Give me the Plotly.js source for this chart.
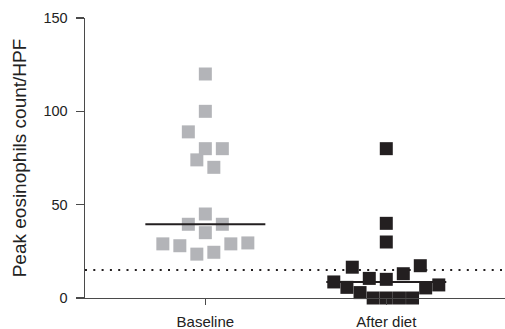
<!DOCTYPE html>
<html>
<head>
<meta charset="utf-8">
<script src="https://cdn.plot.ly/plotly-3.0.1.min.js"></script>
<style>html,body{margin:0;padding:0;background:#fff;}#chart{width:505px;height:329px;}</style>
</head>
<body>
<div id="chart"></div>
<script>
// ---- data ----
const categories = ['Baseline', 'After diet'];
// values listed in the order they fill each row of the dot plot
const baselineValues = [23.5, 24.5, 28, 29, 29, 29.5, 35, 39.5, 39.5, 45, 74, 70, 80, 80, 89, 100, 120];
const afterDietValues = [0, 0, 0, 0, 2.9, 5.4, 5.7, 7, 8.6, 10, 13, 10.5, 17.3, 16.5, 30, 40, 80];
const thresholdValue = 15;
const yTicks = [0, 50, 100, 150];

// ---- layout constants ----
const W = 505, H = 329;
const margin = {l: 85, r: 0, t: 18, b: 31, pad: 0};
const xRange = [0.335, 2.656];
const pxPerX = (W - margin.l - margin.r) / (xRange[1] - xRange[0]);
const ink = '#231f20';
const axisColor = '#4a4a4a';
const font = 'Liberation Sans, Arial, Helvetica, sans-serif';

// row-based scatter-dot arrangement (points binned into rows, spread centre-out)
function swarmOffsets(values, binWidth, spacingPx, maxSpanPx) {
  const bins = new Map();
  values.forEach((v, i) => {
    const b = Math.floor(v / binWidth + 1e-9);
    if (!bins.has(b)) bins.set(b, []);
    bins.get(b).push(i);
  });
  const off = new Array(values.length).fill(0);
  bins.forEach(idx => {
    const n = idx.length;
    const sp = n > 1 ? Math.min(spacingPx, maxSpanPx / (n - 1)) : 0;
    const c = Math.floor((n - 1) / 2);
    const order = [c];
    for (let k = 1; order.length < n; k++) {
      if (c + k < n) order.push(c + k);
      if (c - k >= 0 && order.length < n) order.push(c - k);
    }
    idx.forEach((pi, j) => { off[pi] = (order[j] - (n - 1) / 2) * sp / pxPerX; });
  });
  return off;
}
function median(a) {
  const s = a.slice().sort((p, q) => p - q);
  const m = Math.floor(s.length / 2);
  return s.length % 2 ? s[m] : (s[m - 1] + s[m]) / 2;
}

const groups = [baselineValues, afterDietValues];
const colors = ['#b3b4b8', ink];
const traces = [];
groups.forEach((vals, g) => {
  const pos = g + 1;
  const off = swarmOffsets(vals, 10, 17, 105);
  traces.push({
    type: 'scatter', mode: 'markers',
    x: vals.map((v, i) => pos + off[i]), y: vals,
    marker: {symbol: 'square', size: 13, color: colors[g], line: {width: 0}},
    cliponaxis: false, hoverinfo: 'y'
  });
});
groups.forEach((vals, g) => {
  const pos = g + 1, half = 60 / pxPerX, m = median(vals);
  traces.push({
    type: 'scatter', mode: 'lines',
    x: [pos - half, pos + half], y: [m, m],
    line: {color: ink, width: 2}, hoverinfo: 'skip'
  });
});

const layout = {
  width: W, height: H, margin: margin,
  paper_bgcolor: '#fff', plot_bgcolor: '#fff', showlegend: false,
  font: {family: font, color: '#222'},
  xaxis: {
    range: xRange, tickvals: [1, 2], ticktext: categories,
    showline: true, linecolor: axisColor, linewidth: 1.4,
    ticks: 'outside', ticklen: 6, tickwidth: 1.2, tickcolor: axisColor,
    ticklabelstandoff: 4,
    showgrid: false, zeroline: false, fixedrange: true,
    tickfont: {family: font, size: 15, color: '#222'}
  },
  yaxis: {
    range: [0, 150], tickvals: yTicks,
    showline: true, linecolor: axisColor, linewidth: 1.4,
    ticks: 'outside', ticklen: 8, tickwidth: 1.2, tickcolor: axisColor,
    ticklabelstandoff: 5,
    showgrid: false, zeroline: false, fixedrange: true,
    tickfont: {family: font, size: 14.5, color: '#222'},
    title: {text: 'Peak eosinophils count/HPF', font: {family: font, size: 19, color: '#222'}, standoff: 12}
  },
  shapes: [{
    type: 'line', xref: 'paper', x0: 0, x1: 1, yref: 'y', y0: thresholdValue, y1: thresholdValue,
    line: {color: ink, width: 2, dash: '2px,6.3px'}, layer: 'below'
  }]
};

Plotly.newPlot('chart', traces, layout, {displayModeBar: false, staticPlot: true});
</script>
</body>
</html>
